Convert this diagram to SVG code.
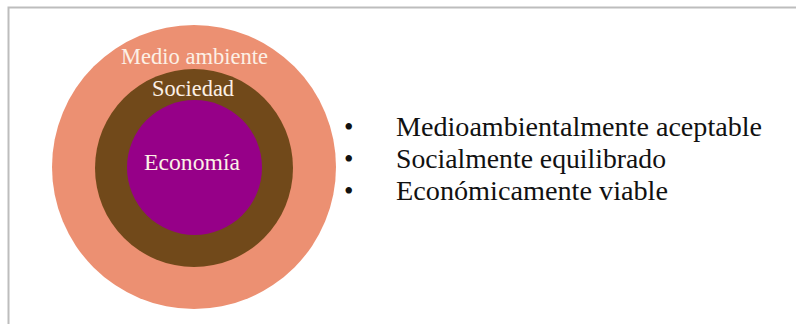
<svg xmlns="http://www.w3.org/2000/svg" width="796" height="324" viewBox="0 0 796 324">
<style>
.lbl{font-family:"Liberation Serif","Times New Roman",serif;fill:#fcf0e6;text-anchor:middle;font-size:22.5px}
.item{font-family:"Liberation Serif","Times New Roman",serif;fill:#111;font-size:27px}
</style>
<rect width="796" height="324" fill="#fff"/>
<path d="M8.5 324 V7.5 H796" fill="none" stroke="#bdbdbd" stroke-width="2"/>
<g id="medio-ambiente">
<circle cx="194" cy="167" r="142" fill="#ec9072"/>
<text class="lbl" x="194.5" y="64" textLength="147" lengthAdjust="spacingAndGlyphs">Medio ambiente</text>
</g>
<g id="sociedad">
<circle cx="194" cy="168" r="99" fill="#71491a"/>
<text class="lbl" x="193" y="96" textLength="82" lengthAdjust="spacingAndGlyphs">Sociedad</text>
</g>
<g id="economia">
<circle cx="194.5" cy="167.5" r="67.5" fill="#960088"/>
<text class="lbl" x="192" y="170" textLength="96" lengthAdjust="spacingAndGlyphs">Economía</text>
</g>
<g id="lista">
<text class="item" x="344" y="136">•</text>
<text class="item" x="396" y="136" textLength="366" lengthAdjust="spacingAndGlyphs">Medioambientalmente aceptable</text>
<text class="item" x="344" y="168">•</text>
<text class="item" x="396" y="168" textLength="270" lengthAdjust="spacingAndGlyphs">Socialmente equilibrado</text>
<text class="item" x="344" y="200">•</text>
<text class="item" x="396" y="200" textLength="272" lengthAdjust="spacingAndGlyphs">Económicamente viable</text>
</g>
</svg>
